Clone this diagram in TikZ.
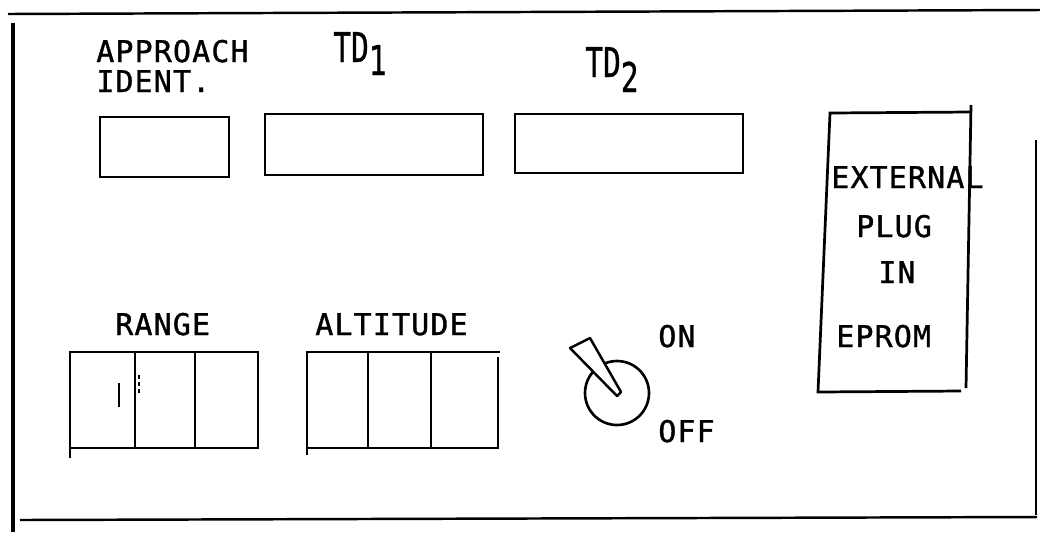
\documentclass[tikz,border=0pt]{standalone}
\usepackage{fontspec}
\usepackage{graphicx}
\newfontfamily\panelfont[LetterSpace=4,FakeBold=1.2]{DejaVu Sans Mono}
\newfontfamily\tdfont[FakeBold=1]{DejaVu Sans Mono}
\begin{document}
\begin{tikzpicture}[x=0.02cm,y=-0.02cm,
  frameline/.style={line width=1.4pt},
  boxline/.style={line width=1.55pt, line join=miter},
  lbl/.style={anchor=base west, inner sep=0pt, font=\panelfont\fontsize{17}{20}\selectfont},
  tdlbl/.style={anchor=base west, inner sep=0pt, font=\tdfont\fontsize{23.3}{26}\selectfont}]
\useasboundingbox (0,0) rectangle (1040,532);
% outer frame
\draw[frameline] (8,14) -- (1040,10);
\draw[line width=2pt] (13,23) -- (13,532);
\draw[frameline] (1036,140) -- (1036,515);
\draw[frameline] (20,520) -- (1037,517);
% labels
\node[lbl] (appr) at (96,62) {APPROACH};
\node[lbl] (ident) at (96,92) {IDENT.};
\node[tdlbl] (td1) at (333,62) {\scalebox{0.72}[1]{TD\raisebox{-0.26cm}{1}}};
\node[tdlbl] (td2) at (585,77) {\scalebox{0.72}[1]{TD\raisebox{-0.30cm}{2}}};
% top displays
\draw[boxline] (100,117) rectangle (229,177);
\draw[boxline] (265,114) rectangle (483,175);
\draw[boxline] (515,114) rectangle (743,173);
% external plug-in box
\draw[boxline] (971,105) -- (966,388);
\draw[boxline] (971,112) -- (830,113) -- (818,392) -- (961,391);
\node[lbl] (ext) at (831,188) {EXTERNAL};
\node[lbl] (plug) at (856,237) {PLUG};
\node[lbl] (in) at (878,283) {IN};
\node[lbl] (eprom) at (836,347) {EPROM};
% range
\node[lbl] (range) at (115,335) {RANGE};
\draw[boxline] (70,458) -- (70,352) -- (258,352) -- (258,448) -- (70,448);
\draw[boxline] (135,352) -- (135,448);
\draw[boxline] (195,352) -- (195,448);
\draw[line width=1.4pt] (119,383) -- (119,407);
\draw[line width=0.7pt, dash pattern=on 2pt off 2pt] (139,375) -- (139,395);
% altitude
\node[lbl] (alt) at (315,335) {ALTITUDE};
\draw[boxline] (307,455) -- (307,352) -- (500,352);
\draw[boxline] (498,357) -- (498,448) -- (307,448);
\draw[boxline] (368,352) -- (368,448);
\draw[boxline] (431,352) -- (431,448);
% switch
\draw[line width=1.5pt] (617,393) circle[radius=32];
\draw[line width=1.4pt, line join=round, fill=white] (570,348) -- (590,338) -- (621,392) -- (617,396) -- cycle;
\node[lbl] (on) at (658,347) {ON};
\node[lbl] (off) at (658,442) {OFF};
\end{tikzpicture}
\end{document}
